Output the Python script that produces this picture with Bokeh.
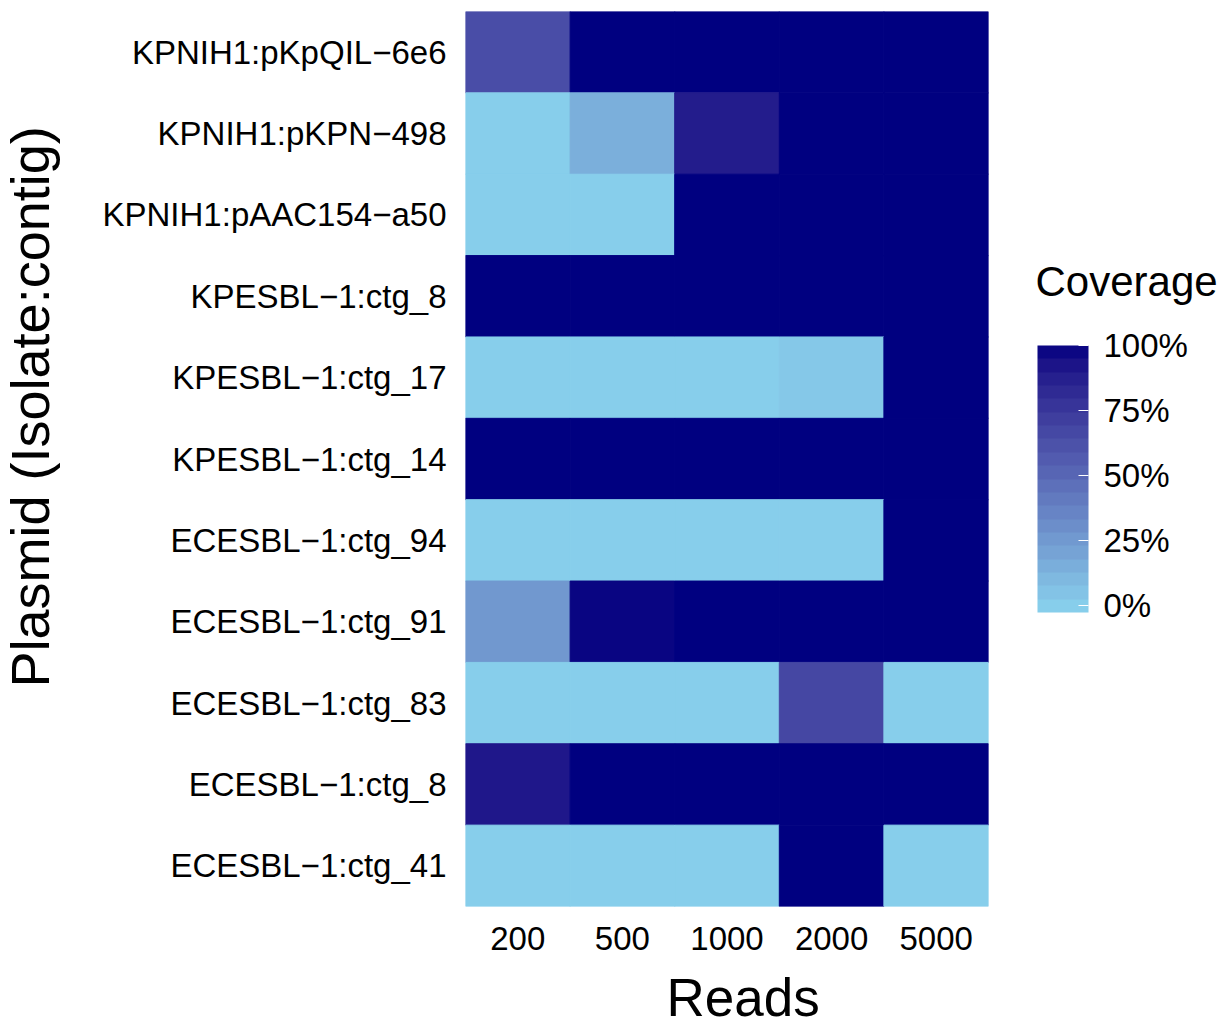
import numpy as np
from bokeh.plotting import figure
from bokeh.layouts import row, column
from bokeh.models import (FactorRange, LinearColorMapper, ColorBar, FixedTicker,
                          Label, NumeralTickFormatter, ColumnDataSource, Range1d)
from bokeh.transform import transform
from bokeh.embed import file_html
from bokeh.resources import INLINE

# ---------------- data ----------------
reads = ["200", "500", "1000", "2000", "5000"]
plasmids = [
    "KPNIH1:pKpQIL\u22126e6",
    "KPNIH1:pKPN\u2212498",
    "KPNIH1:pAAC154\u2212a50",
    "KPESBL\u22121:ctg_8",
    "KPESBL\u22121:ctg_17",
    "KPESBL\u22121:ctg_14",
    "ECESBL\u22121:ctg_94",
    "ECESBL\u22121:ctg_91",
    "ECESBL\u22121:ctg_83",
    "ECESBL\u22121:ctg_8",
    "ECESBL\u22121:ctg_41",
]
# coverage (fraction) per plasmid, for reads 200, 500, 1000, 2000, 5000
cov_pKpQIL = [0.64, 1.00, 1.00, 1.00, 1.00]
cov_pKPN = [0.00, 0.15, 0.89, 1.00, 1.00]
cov_pAAC154 = [0.00, 0.00, 1.00, 1.00, 1.00]
cov_kp_ctg8 = [1.00, 1.00, 1.00, 1.00, 1.00]
cov_kp_ctg17 = [0.00, 0.00, 0.00, 0.03, 1.00]
cov_kp_ctg14 = [1.00, 1.00, 1.00, 1.00, 1.00]
cov_ec_ctg94 = [0.00, 0.00, 0.00, 0.00, 1.00]
cov_ec_ctg91 = [0.26, 0.98, 1.00, 1.00, 1.00]
cov_ec_ctg83 = [0.00, 0.00, 0.00, 0.67, 0.00]
cov_ec_ctg8 = [0.91, 1.00, 1.00, 1.00, 1.00]
cov_ec_ctg41 = [0.00, 0.00, 0.00, 1.00, 0.00]
coverage_rows = [cov_pKpQIL, cov_pKPN, cov_pAAC154, cov_kp_ctg8, cov_kp_ctg17,
                 cov_kp_ctg14, cov_ec_ctg94, cov_ec_ctg91, cov_ec_ctg83,
                 cov_ec_ctg8, cov_ec_ctg41]
legend_ticks = [0, 0.25, 0.5, 0.75, 1.0]

# ------------- Lab gradient (skyblue -> navy) -------------
WHITE = np.array([0.95047, 1.0, 1.08883])
M = np.array([[0.4124564, 0.3575761, 0.1804375],
              [0.2126729, 0.7151522, 0.0721750],
              [0.0193339, 0.1191920, 0.9503041]])
Minv = np.linalg.inv(M)


def hex_to_lab(h):
    rgb = np.array([int(h[i:i + 2], 16) for i in (1, 3, 5)]) / 255.0
    lin = np.where(rgb <= 0.04045, rgb / 12.92, ((rgb + 0.055) / 1.055) ** 2.4)
    xyz = M @ lin / WHITE
    d = 6 / 29
    f = np.where(xyz > d ** 3, np.cbrt(xyz), xyz / (3 * d * d) + 4 / 29)
    return np.array([116 * f[1] - 16, 500 * (f[0] - f[1]), 200 * (f[1] - f[2])])


def lab_to_hex(lab):
    L, a, b = lab
    fy = (L + 16) / 116
    fx = fy + a / 500
    fz = fy - b / 200
    d = 6 / 29
    f = np.array([fx, fy, fz])
    xyz = np.where(f > d, f ** 3, 3 * d * d * (f - 4 / 29)) * WHITE
    lin = Minv @ xyz
    lin = np.clip(lin, 0, 1)
    rgb = np.where(lin <= 0.0031308, 12.92 * lin, 1.055 * lin ** (1 / 2.4) - 0.055)
    rgb = np.clip(np.round(rgb * 255), 0, 255).astype(int)
    return "#%02x%02x%02x" % tuple(rgb)


LOW_LAB = hex_to_lab("#87CEEB")
HIGH_LAB = hex_to_lab("#000080")


def grad(t):
    t = min(max(t, 0.0), 1.0)
    return lab_to_hex(LOW_LAB + (HIGH_LAB - LOW_LAB) * t)


fine_palette = [grad(i / 255) for i in range(256)]
cb_low, cb_high = -0.027, 1.0
nbin = 20
bin_palette = [grad(cb_low + (cb_high - cb_low) * (i + 0.5) / nbin) for i in range(nbin)]

# ------------- source -------------
xs, ys, vs = [], [], []
for name, rw in zip(plasmids, coverage_rows):
    for r, v in zip(reads, rw):
        xs.append(r)
        ys.append(name)
        vs.append(v)
src = ColumnDataSource(dict(read=xs, plasmid=ys, cov=vs))

cell_mapper = LinearColorMapper(palette=fine_palette, low=0, high=1)
bar_mapper = LinearColorMapper(palette=bin_palette, low=cb_low, high=cb_high)

FONT = "Liberation Sans"

# layout sizes
W_Y, W_MAIN, W_LEG = 90, 928, 207
H_MAIN, H_X = 968, 56
H_ALL = H_MAIN + H_X
B_LEFT, B_RIGHT = 375, 30


def blank(w, h, left=0, right=0):
    f = figure(width=w, height=h, x_range=Range1d(0, 1), y_range=Range1d(0, 1),
               min_border=0, min_border_left=left, min_border_right=right,
               x_axis_location=None, y_axis_location=None,
               output_backend="svg", toolbar_location=None)
    f.outline_line_color = None
    f.grid.grid_line_color = None
    return f


# ---------------- main heatmap ----------------
p = figure(x_range=FactorRange(*reads), y_range=FactorRange(*reversed(plasmids)),
           width=W_MAIN, height=H_MAIN,
           min_border_left=B_LEFT, min_border_top=11, min_border_bottom=62,
           min_border_right=B_RIGHT,
           output_backend="svg", toolbar_location=None)

p.rect(x="read", y="plasmid", width=1, height=1, source=src,
       fill_color=transform("cov", cell_mapper),
       line_color=transform("cov", cell_mapper), line_width=1)

p.outline_line_color = None
p.xgrid.grid_line_color = None
p.ygrid.grid_line_color = None
p.x_range.range_padding = 0
p.y_range.range_padding = 0

for ax in (p.xaxis[0], p.yaxis[0]):
    ax.axis_line_color = None
    ax.major_tick_line_color = None
    ax.minor_tick_line_color = None
    ax.major_tick_out = 0
    ax.major_tick_in = 0
    ax.major_label_text_font = FONT
    ax.major_label_text_font_size = "33px"
    ax.major_label_text_color = "black"

p.xaxis.major_label_standoff = 20
p.yaxis.major_label_standoff = 19

# ---------------- y axis title ----------------
p_y = blank(W_Y, H_ALL)
p_y.add_layout(Label(text="Plasmid (Isolate:contig)", x=29, y=H_ALL - 687,
                     x_units="screen", y_units="screen", angle=90, angle_units="deg",
                     text_font=FONT, text_font_size="54px", text_color="black",
                     text_align="left", text_baseline="alphabetic"))

# ---------------- x axis title ----------------
p_x = blank(W_MAIN, H_X, left=B_LEFT, right=B_RIGHT)
p_x.add_layout(Label(text="Reads", x=666 - (W_Y + B_LEFT), y=H_ALL - 997,
                     x_units="screen", y_units="screen",
                     text_font=FONT, text_font_size="53px", text_color="black",
                     text_align="left", text_baseline="alphabetic"))

# ---------------- legend ----------------
p_leg = blank(W_LEG, H_ALL)
leg_left = W_Y + W_MAIN
p_leg.add_layout(Label(text="Coverage", x=1035 - leg_left, y=H_ALL - 281,
                       x_units="screen", y_units="screen",
                       text_font=FONT, text_font_size="42px", text_color="black",
                       text_align="left", text_baseline="alphabetic"))
cb = ColorBar(color_mapper=bar_mapper, width=51, height=267, orientation="vertical",
              ticker=FixedTicker(ticks=legend_ticks),
              formatter=NumeralTickFormatter(format="0%"),
              major_label_text_font=FONT, major_label_text_font_size="33px",
              major_label_text_color="black", label_standoff=15,
              major_tick_line_color="white", major_tick_in=10, major_tick_out=0,
              minor_tick_line_color=None, bar_line_color=None,
              border_line_color=None, background_fill_alpha=0,
              margin=0, padding=10, location=(1027 - leg_left, H_ALL - 622))
p_leg.add_layout(cb)

layout = row(p_y, column(p, p_x), p_leg)

open("out.html", "w").write(file_html(layout, INLINE))
